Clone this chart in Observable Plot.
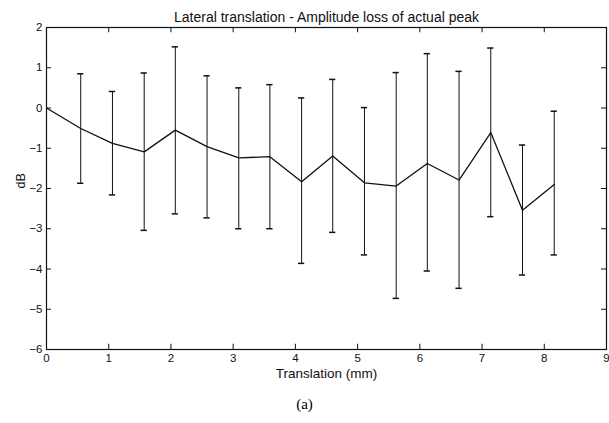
<!DOCTYPE html>
<html><head><meta charset="utf-8">
<script src="https://cdn.jsdelivr.net/npm/d3@7"></script>
<script src="https://cdn.jsdelivr.net/npm/@observablehq/plot@0.6"></script>
<style>
body{margin:0;background:#fff;}
#chart{position:relative;width:609px;height:423px;}
.cap{position:absolute;left:0;width:609px;text-align:center;}
</style>
</head><body>
<div id="chart"></div>
<script>
const translation = [0, 0.55, 1.06, 1.57, 2.07, 2.58, 3.09, 3.59, 4.10, 4.60, 5.11, 5.62, 6.12, 6.63, 7.14, 7.65, 8.16];
const meanDB  = [0, -0.51, -0.88, -1.09, -0.55, -0.96, -1.24, -1.21, -1.83, -1.19, -1.86, -1.94, -1.38, -1.79, -0.61, -2.54, -1.90];
const upperDB = [null, 0.85, 0.41, 0.87, 1.52, 0.80, 0.50, 0.58, 0.25, 0.71, 0.01, 0.88, 1.35, 0.91, 1.49, -0.92, -0.08];
const lowerDB = [null, -1.87, -2.16, -3.04, -2.63, -2.73, -3.00, -3.00, -3.86, -3.09, -3.65, -4.73, -4.05, -4.48, -2.70, -4.15, -3.65];
const xTicks = [0,1,2,3,4,5,6,7,8,9];
const yTicks = [2,1,0,-1,-2,-3,-4,-5,-6];
const titleText = "Lateral translation - Amplitude loss of actual peak";
const xLabel = "Translation (mm)";
const yLabel = "dB";
const subLabel = "(a)";

const pts = translation.map((x,i)=>({x, m: meanDB[i], hi: upperDB[i], lo: lowerDB[i]}));
const bars = pts.filter(d => d.hi !== null);
const caps = bars.flatMap(d => [{x1: d.x-0.05, x2: d.x+0.05, y: d.hi}, {x1: d.x-0.05, x2: d.x+0.05, y: d.lo}]);

const font = "'Liberation Sans', Arial, Helvetica, sans-serif";
const tl = 0.08, tly = 0.13;
const chart = Plot.plot({
  width: 609, height: 423,
  marginTop: 27, marginBottom: 74, marginLeft: 46, marginRight: 3,
  style: {fontFamily: font, fontSize: "12px", color: "#111", background: "#fff"},
  x: {domain: [0, 9], axis: null},
  y: {domain: [-6, 2], axis: null},
  marks: [
    Plot.frame({stroke: "#111", strokeWidth: 1.2}),
    // inward ticks
    Plot.ruleX(xTicks, {x: d=>d, y1: -6, y2: -6+tly, stroke: "#111"}),
    Plot.ruleX(xTicks, {x: d=>d, y1: 2, y2: 2-tly, stroke: "#111"}),
    Plot.ruleY(yTicks, {y: d=>d, x1: 0, x2: tl, stroke: "#111"}),
    Plot.ruleY(yTicks, {y: d=>d, x1: 9, x2: 9-tl, stroke: "#111"}),
    Plot.text(xTicks, {x: d=>d, frameAnchor: "bottom", dy: 12, text: d=>String(d), fontSize: 11.5}),
    Plot.text(yTicks, {y: d=>d, frameAnchor: "left", dx: -4, textAnchor: "end", text: d=>d<0 ? "\u2212"+Math.abs(d) : String(d), fontSize: 11.5}),
    Plot.text([titleText], {frameAnchor: "top", dy: -15, text: d=>d, fontSize: 14}),
    Plot.text([xLabel], {frameAnchor: "bottom", dy: 28, text: d=>d, fontSize: 13.5}),
    Plot.text([yLabel], {frameAnchor: "left", dx: -26, rotate: -90, text: d=>d, fontSize: 12.5}),
    // error bars
    Plot.ruleX(bars, {x: "x", y1: "lo", y2: "hi", stroke: "#111", strokeWidth: 1}),
    Plot.ruleY(caps, {y: "y", x1: "x1", x2: "x2", stroke: "#111", strokeWidth: 1.5}),
    Plot.line(pts, {x: "x", y: "m", stroke: "#111", strokeWidth: 1.3})
  ]
});
document.getElementById("chart").appendChild(chart);
const a = document.createElement("div");
a.className = "cap";
a.style.top = "396px";
a.style.font = "15px 'Liberation Serif', 'Times New Roman', serif";
a.textContent = subLabel;
document.getElementById("chart").appendChild(a);
</script>
</body></html>
